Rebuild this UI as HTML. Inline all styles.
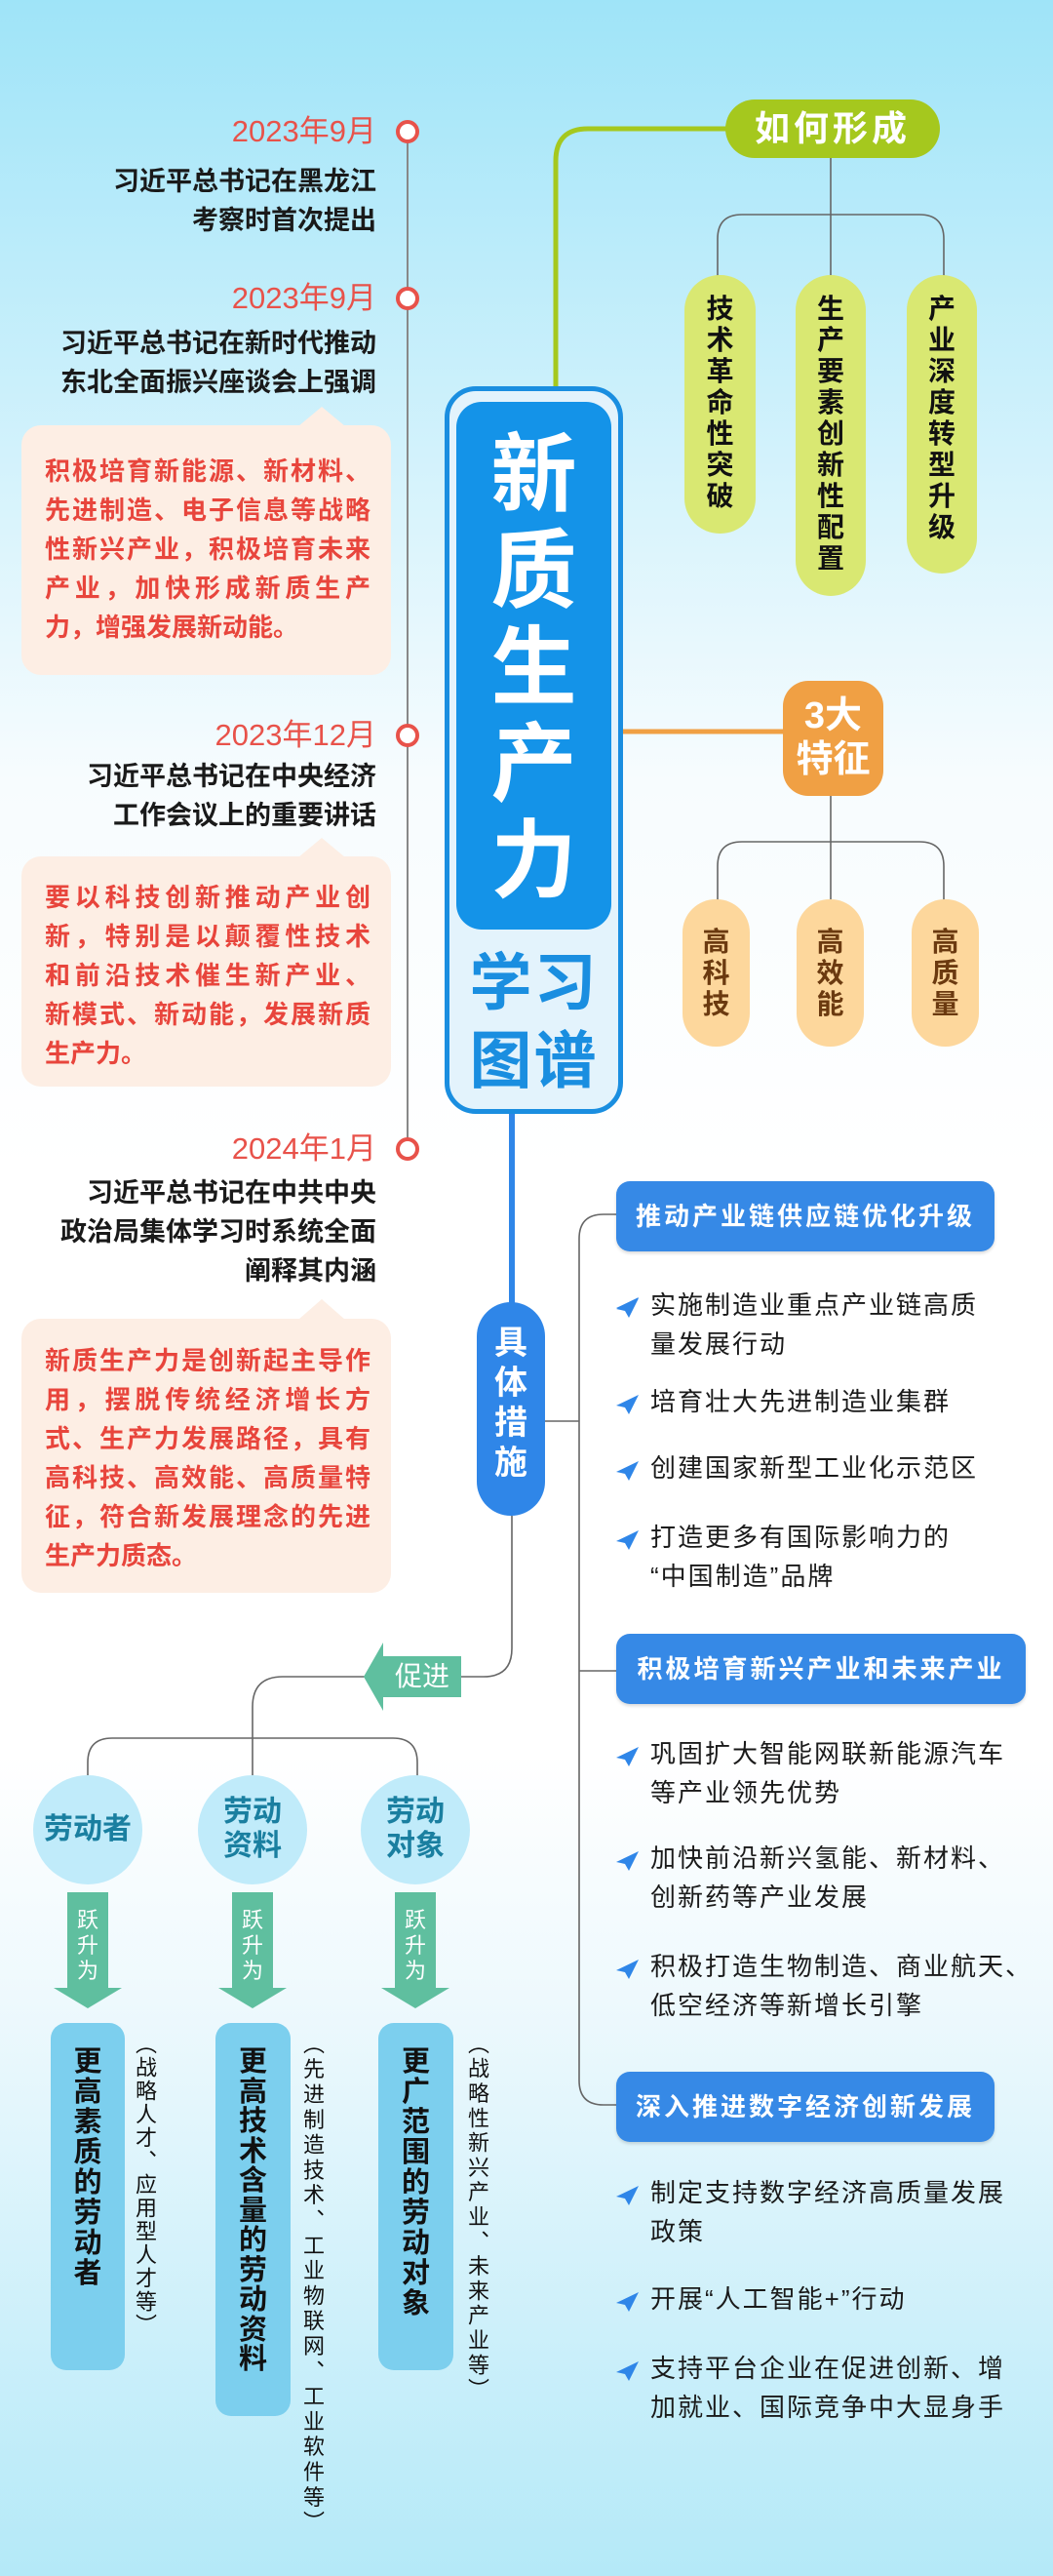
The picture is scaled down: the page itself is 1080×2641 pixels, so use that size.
<!DOCTYPE html>
<html><head><meta charset="utf-8">
<style>
*{margin:0;padding:0;box-sizing:border-box}
body{width:1080px;height:2641px;position:relative;overflow:hidden;font-family:"Liberation Sans","Noto Sans CJK SC",sans-serif;
background:linear-gradient(to bottom,#9fe4f8 0px,#d6f3fc 500px,#f7fcfe 800px,#ffffff 1200px,#ffffff 1800px,#eef9fd 2050px,#b4e9f8 2641px);}
.a{position:absolute}
.date{position:absolute;right:694px;font-size:31px;color:#e8524a;line-height:40px;white-space:nowrap}
.tl{position:absolute;right:694px;font-size:27px;color:#1a1a1a;font-weight:bold;line-height:40px;text-align:right;white-space:nowrap}
.bub{position:absolute;left:22px;width:379px;background:#fdeee4;border-radius:20px}
.bt{position:absolute;left:46px;width:334px;font-size:26px;font-weight:bold;color:#e8453c;line-height:40px;text-align:justify;text-align-last:justify}
.bt .l{display:block}
.vt{position:absolute;writing-mode:vertical-rl;text-orientation:upright;white-space:nowrap}
.hd{position:absolute;left:632px;height:72px;background:#3689e6;border-radius:14px;color:#fff;font-weight:bold;font-size:26px;letter-spacing:3px;line-height:72px;text-align:center;box-shadow:0 2px 3px rgba(0,0,0,0.15)}
.it{position:absolute;left:667px;font-size:26px;letter-spacing:2px;color:#1a1a1a;line-height:40px;white-space:nowrap}
.ic{position:absolute;left:632px;width:24px;height:20px}
</style></head><body>

<svg class="a" style="left:0;top:0" width="1080" height="2641">
 <!-- timeline -->
 <line x1="418" y1="135" x2="418" y2="1178" stroke="#888" stroke-width="2"/>
 <g fill="#fff" stroke="#e8524a" stroke-width="4">
  <circle cx="418" cy="135" r="10"/><circle cx="418" cy="306" r="10"/>
  <circle cx="418" cy="754" r="10"/><circle cx="418" cy="1178" r="10"/>
 </g>
 <!-- bubble pointers -->
 <g fill="#fdeee4">
  <polygon points="306,437 330,417 354,437"/>
  <polygon points="306,879 330,859 354,879"/>
  <polygon points="306,1353 330,1332 354,1353"/>
 </g>
 <!-- green connector -->
 <path d="M570,400 V165 Q570,132 603,132 H750" fill="none" stroke="#a5c81e" stroke-width="5"/>
 <!-- orange connector -->
 <line x1="639" y1="750" x2="806" y2="750" stroke="#f0a044" stroke-width="5"/>
 <!-- trees -->
 <g fill="none" stroke="#666" stroke-width="1.6">
  <line x1="852" y1="162" x2="852" y2="284"/>
  <path d="M736,284 V245 Q736,220 761,220 H943 Q968,220 968,245 V284"/>
  <line x1="852" y1="816" x2="852" y2="924"/>
  <path d="M736,924 V888 Q736,863 761,863 H943 Q968,863 968,888 V924"/>
  <!-- right bracket -->
  <path d="M634,1245 H619 Q594,1245 594,1270 V2133 Q594,2158 619,2158 H634"/>
  <line x1="594" y1="1713" x2="634" y2="1713"/>
  <line x1="559" y1="1457" x2="594" y2="1457"/>
  <!-- lower -->
  <path d="M525,1554 V1690 Q525,1719 496,1719 H470"/>
  <path d="M376,1719 H290 Q259,1719 259,1750 V1822"/>
  <path d="M90,1822 V1807 Q90,1782 115,1782 H403 Q428,1782 428,1807 V1822"/>
 </g>
 <!-- blue line -->
 <line x1="525" y1="1142" x2="525" y2="1337" stroke="#2f86e8" stroke-width="6"/>
 <!-- promote arrow -->
 <polygon points="373,1719 393,1684 393,1698 473,1698 473,1740 393,1740 393,1754" fill="#5fbf9f"/>
 <!-- circles -->
 <g fill="#c0ebfa">
  <circle cx="90" cy="1876" r="56"/><circle cx="259" cy="1876" r="56"/><circle cx="426" cy="1876" r="56"/>
 </g>
 <!-- down arrows -->
 <g fill="#5fbf9f">
  <polygon points="69,1940 111,1940 111,2038 125,2038 90,2059 55,2038 69,2038"/>
  <polygon points="238,1940 280,1940 280,2038 294,2038 259,2059 224,2038 238,2038"/>
  <polygon points="405,1940 447,1940 447,2038 461,2038 426,2059 391,2038 405,2038"/>
 </g>
 <!-- result boxes -->
 <g fill="#7ccfee">
  <rect x="52" y="2074" width="76" height="356" rx="16"/>
  <rect x="221" y="2074" width="77" height="403" rx="16"/>
  <rect x="388" y="2074" width="77" height="356" rx="16"/>
 </g>
 <!-- plane icons -->
 <g fill="#2f86e8">
  <path id="pl" d="M655,1330 L632,1341 L641,1343 L645,1350 Z"/>
 </g>
</svg>

<!-- Timeline texts -->
<div class="date" style="top:115px">2023年9月</div>
<div class="tl" style="top:166px">习近平总书记在黑龙江<br>考察时首次提出</div>
<div class="date" style="top:286px">2023年9月</div>
<div class="tl" style="top:332px">习近平总书记在新时代推动<br>东北全面振兴座谈会上强调</div>
<div class="bub" style="top:436px;height:256px"></div>
<div class="bt" style="top:463px"><span class="l">积极培育新能源、新材料、</span><span class="l">先进制造、电子信息等战略</span><span class="l">性新兴产业，积极培育未来</span><span class="l">产业，加快形成新质生产</span><span class="l" style="text-align-last:left">力，增强发展新动能。</span></div>

<div class="date" style="top:734px">2023年12月</div>
<div class="tl" style="top:776px">习近平总书记在中央经济<br>工作会议上的重要讲话</div>
<div class="bub" style="top:878px;height:236px"></div>
<div class="bt" style="top:900px"><span class="l">要以科技创新推动产业创</span><span class="l">新，特别是以颠覆性技术</span><span class="l">和前沿技术催生新产业、</span><span class="l">新模式、新动能，发展新质</span><span class="l" style="text-align-last:left">生产力。</span></div>

<div class="date" style="top:1158px">2024年1月</div>
<div class="tl" style="top:1203px">习近平总书记在中共中央<br>政治局集体学习时系统全面<br>阐释其内涵</div>
<div class="bub" style="top:1352px;height:281px"></div>
<div class="bt" style="top:1375px"><span class="l">新质生产力是创新起主导作</span><span class="l">用，摆脱传统经济增长方</span><span class="l">式、生产力发展路径，具有</span><span class="l">高科技、高效能、高质量特</span><span class="l">征，符合新发展理念的先进</span><span class="l" style="text-align-last:left">生产力质态。</span></div>

<!-- Center box -->
<div class="a" style="left:456px;top:396px;width:183px;height:746px;border:5px solid #1a8ee0;border-radius:32px;background:#e3f3fc"></div>
<div class="a" style="left:468px;top:412px;width:159px;height:541px;background:#1493e8;border-radius:26px"></div>
<div class="a" style="left:468px;top:437px;width:159px;text-align:center;color:#fff;font-weight:bold;font-size:88px;line-height:99px">新<br>质<br>生<br>产<br>力</div>
<div class="a" style="left:456px;top:968px;width:183px;text-align:center;color:#1a8ee0;font-weight:bold;font-size:64px;line-height:80px;letter-spacing:2px">学习<br>图谱</div>

<!-- 如何形成 -->
<div class="a" style="left:744px;top:102px;width:220px;height:60px;border-radius:30px;background:#a5c81e;color:#fff;font-weight:bold;font-size:36px;line-height:60px;text-align:center;letter-spacing:4px">如何形成</div>
<div class="a" style="left:702px;top:282px;width:73px;height:265px;border-radius:36px;background:#d9e872"></div>
<div class="a" style="left:816px;top:282px;width:72px;height:329px;border-radius:36px;background:#d9e872"></div>
<div class="a" style="left:930px;top:282px;width:72px;height:306px;border-radius:36px;background:#d9e872"></div>
<div class="a" style="left:702px;top:301px;width:73px;text-align:center;font-size:28px;line-height:32px;color:#111;font-weight:bold">技<br>术<br>革<br>命<br>性<br>突<br>破</div>
<div class="a" style="left:816px;top:301px;width:72px;text-align:center;font-size:28px;line-height:32px;color:#111;font-weight:bold">生<br>产<br>要<br>素<br>创<br>新<br>性<br>配<br>置</div>
<div class="a" style="left:930px;top:301px;width:72px;text-align:center;font-size:28px;line-height:32px;color:#111;font-weight:bold">产<br>业<br>深<br>度<br>转<br>型<br>升<br>级</div>

<!-- 3大特征 -->
<div class="a" style="left:803px;top:698px;width:103px;height:118px;border-radius:26px;background:#f0a044;color:#fff;font-weight:bold;font-size:38px;line-height:45px;text-align:center;padding-top:14px">3大<br>特征</div>
<div class="a" style="left:700px;top:922px;width:69px;height:151px;border-radius:34px;background:#fdd79c"></div>
<div class="a" style="left:817px;top:922px;width:69px;height:151px;border-radius:34px;background:#fdd79c"></div>
<div class="a" style="left:935px;top:922px;width:69px;height:151px;border-radius:34px;background:#fdd79c"></div>
<div class="a" style="left:700px;top:950px;width:69px;text-align:center;font-size:28px;line-height:32px;color:#6b3a10;font-weight:bold">高<br>科<br>技</div>
<div class="a" style="left:817px;top:950px;width:69px;text-align:center;font-size:28px;line-height:32px;color:#6b3a10;font-weight:bold">高<br>效<br>能</div>
<div class="a" style="left:935px;top:950px;width:69px;text-align:center;font-size:28px;line-height:32px;color:#6b3a10;font-weight:bold">高<br>质<br>量</div>

<!-- 具体措施 -->
<div class="a" style="left:489px;top:1335px;width:70px;height:219px;border-radius:35px;background:#2f86e8;color:#fff;font-weight:bold;font-size:34px;line-height:41px;text-align:center;padding-top:22px">具<br>体<br>措<br>施</div>

<!-- headers -->
<div class="hd" style="top:1211px;width:388px">推动产业链供应链优化升级</div>
<div class="hd" style="top:1675px;width:420px">积极培育新兴产业和未来产业</div>
<div class="hd" style="top:2124px;width:388px">深入推进数字经济创新发展</div>

<!-- items -->
<div class="it" style="top:1318px">实施制造业重点产业链高质<br>量发展行动</div>
<div class="it" style="top:1417px">培育壮大先进制造业集群</div>
<div class="it" style="top:1485px">创建国家新型工业化示范区</div>
<div class="it" style="top:1556px">打造更多有国际影响力的<br>“中国制造”品牌</div>
<div class="it" style="top:1778px">巩固扩大智能网联新能源汽车<br>等产业领先优势</div>
<div class="it" style="top:1885px">加快前沿新兴氢能、新材料、<br>创新药等产业发展</div>
<div class="it" style="top:1996px">积极打造生物制造、商业航天、<br>低空经济等新增长引擎</div>
<div class="it" style="top:2228px">制定支持数字经济高质量发展<br>政策</div>
<div class="it" style="top:2337px">开展“人工智能+”行动</div>
<div class="it" style="top:2408px">支持平台企业在促进创新、增<br>加就业、国际竞争中大显身手</div>

<svg class="a" style="left:0;top:0" width="1080" height="2641">
 <g fill="#2f86e8">
  <path transform="translate(0,1)" d="M655,1330 L632,1341 L641,1343 L645,1350 Z"/>
  <path transform="translate(0,100)" d="M655,1330 L632,1341 L641,1343 L645,1350 Z"/>
  <path transform="translate(0,168)" d="M655,1330 L632,1341 L641,1343 L645,1350 Z"/>
  <path transform="translate(0,239)" d="M655,1330 L632,1341 L641,1343 L645,1350 Z"/>
  <path transform="translate(0,461)" d="M655,1330 L632,1341 L641,1343 L645,1350 Z"/>
  <path transform="translate(0,568)" d="M655,1330 L632,1341 L641,1343 L645,1350 Z"/>
  <path transform="translate(0,679)" d="M655,1330 L632,1341 L641,1343 L645,1350 Z"/>
  <path transform="translate(0,911)" d="M655,1330 L632,1341 L641,1343 L645,1350 Z"/>
  <path transform="translate(0,1020)" d="M655,1330 L632,1341 L641,1343 L645,1350 Z"/>
  <path transform="translate(0,1091)" d="M655,1330 L632,1341 L641,1343 L645,1350 Z"/>
 </g>
</svg>

<!-- 促进 -->
<div class="a" style="left:393px;top:1698px;width:80px;height:42px;color:#fff;font-size:28px;line-height:42px;text-align:center">促进</div>

<!-- circles text -->
<div class="a" style="left:34px;top:1856px;width:112px;text-align:center;color:#1a7fa0;font-weight:bold;font-size:30px;line-height:40px">劳动者</div>
<div class="a" style="left:203px;top:1840px;width:112px;text-align:center;color:#1a7fa0;font-weight:bold;font-size:30px;line-height:35px">劳动<br>资料</div>
<div class="a" style="left:370px;top:1840px;width:112px;text-align:center;color:#1a7fa0;font-weight:bold;font-size:30px;line-height:35px">劳动<br>对象</div>

<!-- 跃升为 -->
<div class="a" style="left:69px;top:1956px;width:42px;text-align:center;color:#fff;font-size:22px;line-height:26px">跃<br>升<br>为</div>
<div class="a" style="left:238px;top:1956px;width:42px;text-align:center;color:#fff;font-size:22px;line-height:26px">跃<br>升<br>为</div>
<div class="a" style="left:405px;top:1956px;width:42px;text-align:center;color:#fff;font-size:22px;line-height:26px">跃<br>升<br>为</div>

<!-- result texts -->
<div class="a" style="left:52px;top:2099px;width:76px;text-align:center;color:#111;font-weight:bold;font-size:29px;line-height:31px">更<br>高<br>素<br>质<br>的<br>劳<br>动<br>者</div>
<div class="a" style="left:221px;top:2099px;width:77px;text-align:center;color:#111;font-weight:bold;font-size:29px;line-height:30.5px">更<br>高<br>技<br>术<br>含<br>量<br>的<br>劳<br>动<br>资<br>料</div>
<div class="a" style="left:388px;top:2099px;width:77px;text-align:center;color:#111;font-weight:bold;font-size:29px;line-height:31px">更<br>广<br>范<br>围<br>的<br>劳<br>动<br>对<br>象</div>

<!-- notes -->
<div class="vt" style="left:136px;top:2084px;font-size:22px;letter-spacing:2px;color:#111;line-height:24px">（战略人才、应用型人才等）</div>
<div class="vt" style="left:308px;top:2084px;font-size:22px;letter-spacing:3.8px;color:#111;line-height:24px">（先进制造技术、工业物联网、工业软件等）</div>
<div class="vt" style="left:477px;top:2084px;font-size:22px;letter-spacing:3.3px;color:#111;line-height:24px">（战略性新兴产业、未来产业等）</div>

</body></html>
